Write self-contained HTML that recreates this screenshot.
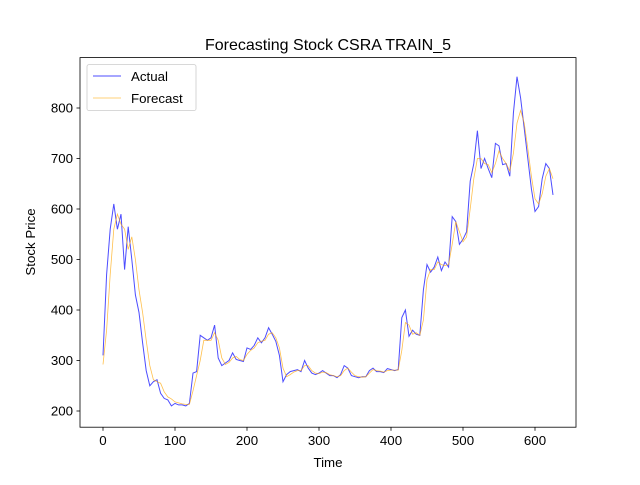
<!DOCTYPE html>
<html><head><meta charset="utf-8"><style>
body{margin:0;background:#fff}
svg{font-family:"Liberation Sans","DejaVu Sans",sans-serif}
</style></head><body>
<svg id="chart" width="640" height="480" viewBox="0 0 640 480">
<rect width="640" height="480" fill="#fff"/>
<text x="328" y="50" text-anchor="middle" font-size="16">Forecasting Stock CSRA TRAIN_5</text>
<g id="plot"></g>
<rect x="80" y="57.6" width="496" height="369.6" fill="none" stroke="#000" stroke-width="0.8"/>
<g id="xticks"></g><g id="yticks"></g>
<text x="328" y="467" text-anchor="middle" font-size="13.3">Time</text>
<text transform="translate(35,242) rotate(-90)" text-anchor="middle" font-size="13.3">Stock Price</text>
<g>
<rect x="87" y="64.6" width="109" height="46" rx="2" fill="#fff" fill-opacity="0.8" stroke="#ccc" stroke-width="0.8"/>
<g>
<line x1="93" y1="76" x2="121" y2="76" stroke="#0000ff" stroke-opacity="0.7" stroke-width="1"/>
<text x="131" y="81" font-size="13.3">Actual</text></g>
<g>
<line x1="93" y1="98" x2="121" y2="98" stroke="orange" stroke-opacity="0.7" stroke-width="0.8"/>
<text x="131" y="103" font-size="13.3">Forecast</text></g>
</g>
</svg>
<script>
const step = 5;
const actual = [310,470,560,610,560,590,480,565,500,430,395,335,280,250,258,262,235,225,222,210,215,212,212,210,215,275,278,350,345,340,345,370,305,290,295,300,315,302,300,298,325,322,330,345,335,345,365,352,338,310,258,272,278,280,282,278,300,285,275,272,275,280,275,270,270,266,272,290,285,270,268,266,268,268,280,285,278,278,276,284,282,280,282,385,400,348,360,352,350,440,490,475,485,505,478,495,485,585,575,530,540,555,655,690,755,680,700,680,662,730,725,688,690,665,790,862,820,760,700,640,595,605,660,690,680,628];
const forecast = [292,360,470,560,590,570,560,520,545,500,440,395,340,290,262,258,255,238,228,224,218,216,214,213,213,240,270,300,340,340,340,355,340,305,292,296,305,308,302,300,312,320,325,335,338,340,352,355,345,325,285,268,272,277,280,280,290,290,280,275,274,277,276,272,270,268,270,280,285,277,270,268,267,268,275,282,280,279,277,280,281,281,281,320,375,370,352,355,350,380,460,480,480,495,490,488,490,530,575,555,535,545,600,660,700,700,690,688,672,690,715,700,690,675,710,770,795,770,720,665,620,610,630,665,680,660];
const xTicks = [0,100,200,300,400,500,600];
const yTicks = [200,300,400,500,600,700,800];
const NS="http://www.w3.org/2000/svg";
const xs = t => 103 + t*0.72;
const ys = v => 411 - (v-200)*0.505;
const plot = document.getElementById('plot');
function line(arr,color,w,name){
  const p=document.createElementNS(NS,'polyline');
  p.setAttribute('points',arr.map((v,i)=>xs(i*step).toFixed(1)+','+ys(v).toFixed(1)).join(' '));
  p.setAttribute('fill','none');p.setAttribute('stroke',color);
  p.setAttribute('stroke-opacity','0.7');p.setAttribute('stroke-width',w);
  
  
  plot.appendChild(p);
}
line(actual,'#0000ff',1,'actual-line');
line(forecast,'orange',0.8,'forecast-line');
const xg=document.getElementById('xticks');
xTicks.forEach(t=>{
  const g=document.createElementNS(NS,'g');
  
  
  g.innerHTML=`<line x1="${xs(t)}" y1="427.2" x2="${xs(t)}" y2="430.7" stroke="#000" stroke-width="0.8"/><text x="${xs(t)}" y="445" text-anchor="middle" font-size="13.3">${t}</text>`;
  xg.appendChild(g);
});
const yg=document.getElementById('yticks');
yTicks.forEach(v=>{
  const g=document.createElementNS(NS,'g');
  
  
  g.innerHTML=`<line x1="76.5" y1="${ys(v)}" x2="80" y2="${ys(v)}" stroke="#000" stroke-width="0.8"/><text x="73" y="${ys(v)+4.5}" text-anchor="end" font-size="13.3">${v}</text>`;
  yg.appendChild(g);
});
</script>
</body></html>
